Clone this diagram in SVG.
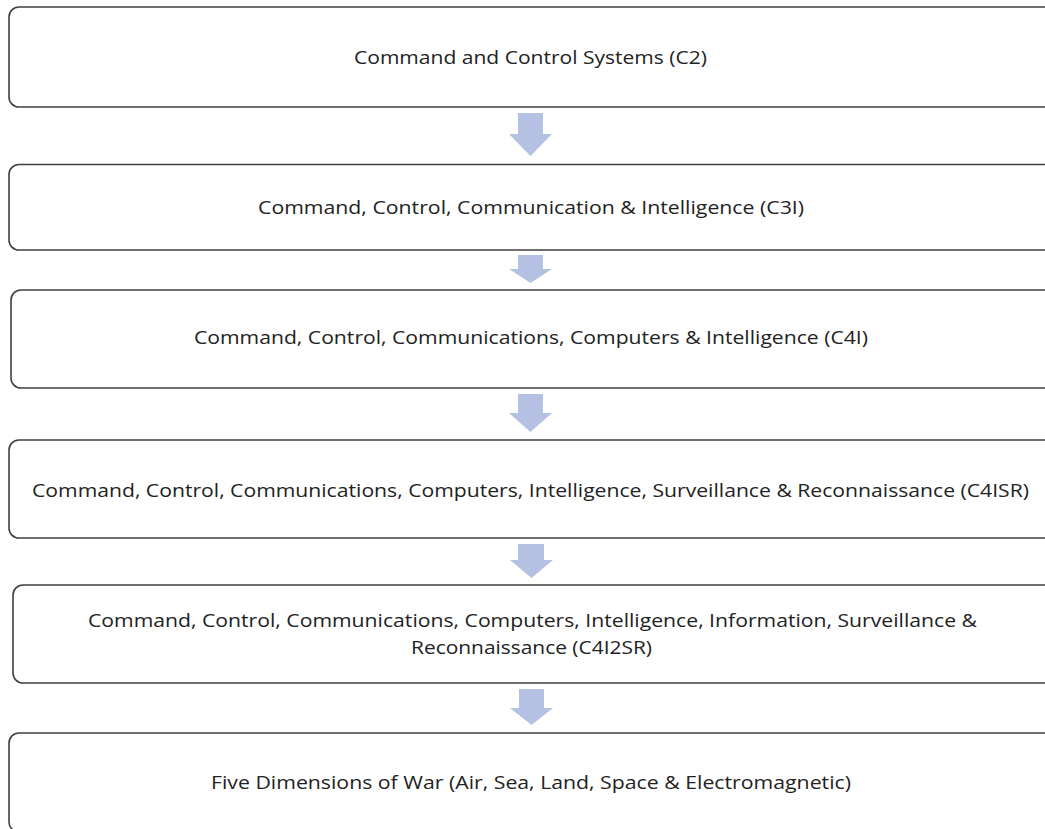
<svg xmlns="http://www.w3.org/2000/svg" width="1045" height="829" viewBox="0 0 1045 829">
<style>
.box{fill:#ffffff;stroke:#404040;stroke-width:1.6}
.lbl{font-family:"Open Sans","Noto Sans","Liberation Sans",sans-serif;font-size:18.5px;fill:#222222;text-anchor:middle;dominant-baseline:central}
.arr{fill:#b4c1e3}
</style>
<rect width="1045" height="829" fill="#ffffff"/>
<g id="connectors">
<polygon class="arr" points="518,113 543,113 543,134 552,134 530.5,156 509,134 518,134"/>
<polygon class="arr" points="518,255 543,255 543,269 552,269 530.5,283 509,269 518,269"/>
<polygon class="arr" points="518,394 543,394 543,413 552,413 530.5,432 509,413 518,413"/>
<polygon class="arr" points="518,544 544,544 544,560 553,560 531.5,578 510,560 518,560"/>
<polygon class="arr" points="519,689 544,689 544,708 553,708 531.5,725 510,708 519,708"/>
</g>
<g id="node1">
<rect class="box" x="9" y="7" width="1050" height="100" rx="10"/>
<text class="lbl" x="530.5" y="56" textLength="353" lengthAdjust="spacingAndGlyphs">Command and Control Systems (C2)</text>
</g>
<g id="node2">
<rect class="box" x="9" y="164.5" width="1050" height="85.5" rx="10"/>
<text class="lbl" x="531" y="206" textLength="546" lengthAdjust="spacingAndGlyphs">Command, Control, Communication &amp; Intelligence (C3I)</text>
</g>
<g id="node3">
<rect class="box" x="11" y="290" width="1050" height="98" rx="10"/>
<text class="lbl" x="531" y="336" textLength="674" lengthAdjust="spacingAndGlyphs">Command, Control, Communications, Computers &amp; Intelligence (C4I)</text>
</g>
<g id="node4">
<rect class="box" x="9" y="440" width="1050" height="98" rx="10"/>
<text class="lbl" x="530.5" y="489" textLength="997" lengthAdjust="spacingAndGlyphs">Command, Control, Communications, Computers, Intelligence, Surveillance &amp; Reconnaissance (C4ISR)</text>
</g>
<g id="node5">
<rect class="box" x="13" y="585" width="1050" height="98" rx="10"/>
<text class="lbl" x="532.5" y="619" textLength="889" lengthAdjust="spacingAndGlyphs">Command, Control, Communications, Computers, Intelligence, Information, Surveillance &amp;</text>
<text class="lbl" x="531.5" y="646" textLength="241" lengthAdjust="spacingAndGlyphs">Reconnaissance (C4I2SR)</text>
</g>
<g id="node6">
<rect class="box" x="9" y="733" width="1050" height="99" rx="10"/>
<text class="lbl" x="531" y="781" textLength="640" lengthAdjust="spacingAndGlyphs">Five Dimensions of War (Air, Sea, Land, Space &amp; Electromagnetic)</text>
</g>
</svg>
